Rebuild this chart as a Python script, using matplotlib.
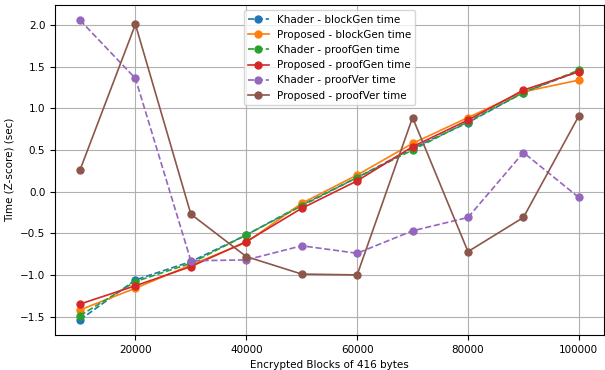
import matplotlib
matplotlib.use("Agg")
import matplotlib.pyplot as plt

blocks = [10000, 20000, 30000, 40000, 50000, 60000, 70000, 80000, 90000, 100000]
khader_blockgen = [-1.54, -1.06, -0.84, -0.52, -0.16, 0.17, 0.52, 0.83, 1.19, 1.45]
proposed_blockgen = [-1.42, -1.16, -0.88, -0.61, -0.14, 0.20, 0.58, 0.89, 1.20, 1.34]
khader_proofgen = [-1.49, -1.08, -0.86, -0.52, -0.17, 0.17, 0.50, 0.84, 1.19, 1.46]
proposed_proofgen = [-1.35, -1.13, -0.90, -0.60, -0.20, 0.13, 0.54, 0.86, 1.22, 1.44]
khader_proofver = [2.06, 1.36, -0.83, -0.82, -0.65, -0.74, -0.47, -0.31, 0.47, -0.07]
proposed_proofver = [0.26, 2.01, -0.27, -0.78, -0.99, -1.00, 0.89, -0.72, -0.31, 0.91]

series = [
    ("Khader - blockGen time", khader_blockgen, "--", "#1f77b4"),
    ("Proposed - blockGen time", proposed_blockgen, "-", "#ff7f0e"),
    ("Khader - proofGen time", khader_proofgen, "--", "#2ca02c"),
    ("Proposed - proofGen time", proposed_proofgen, "-", "#d62728"),
    ("Khader - proofVer time", khader_proofver, "--", "#9467bd"),
    ("Proposed - proofVer time", proposed_proofver, "-", "#8c564b"),
]

plt.rcParams["font.size"] = 7.5
fig, ax = plt.subplots(figsize=(6.05, 3.7), dpi=100)
fig.subplots_adjust(left=0.091, right=0.998, top=0.986, bottom=0.095)

for label, vals, ls, c in series:
    ax.plot(blocks, vals, ls, marker="o", markersize=5, color=c, label=label, linewidth=1.2)

ax.set_xlabel("Encrypted Blocks of 416 bytes")
ax.set_ylabel("Time (Z-score) (sec)")
ax.set_xticks([20000, 40000, 60000, 80000, 100000])
ax.grid(True)
ax.legend(loc="upper center")
fig.savefig("out.png", dpi=100)
